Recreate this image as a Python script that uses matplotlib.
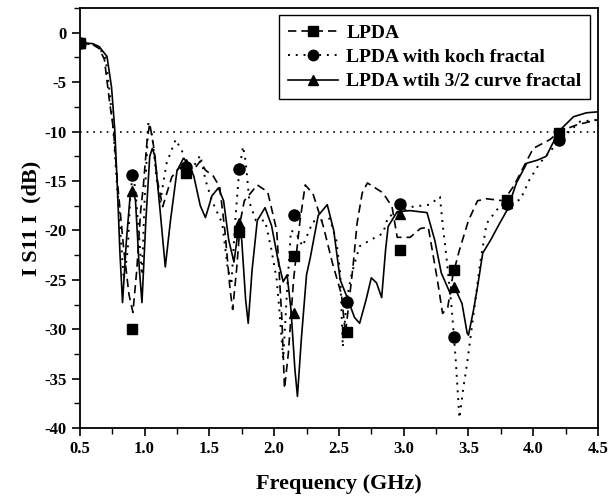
import matplotlib.pyplot as plt
from matplotlib.lines import Line2D
from matplotlib.ticker import MultipleLocator

plt.rcParams['font.family'] = ['Liberation Serif', 'DejaVu Serif']
plt.rcParams['font.weight'] = 'bold'
plt.rcParams['axes.unicode_minus'] = False

# LPDA (dashed)
x_lpda = [0.5, 0.6, 0.65, 0.69, 0.73, 0.76, 0.79, 0.84, 0.88, 0.91, 0.94, 0.97, 0.99, 1.02, 1.04,
          1.07, 1.1, 1.14, 1.21, 1.27, 1.32, 1.37, 1.43, 1.47, 1.53, 1.58, 1.62, 1.66, 1.68,
          1.71, 1.74, 1.77, 1.87, 1.95, 2.02, 2.06, 2.08, 2.11, 2.15, 2.2, 2.24, 2.3, 2.38,
          2.45, 2.52, 2.55, 2.58, 2.61, 2.64, 2.68, 2.72, 2.84, 2.91, 2.95, 3.05, 3.13, 3.19,
          3.26, 3.3, 3.34, 3.38, 3.43, 3.5, 3.57, 3.64, 3.77, 3.85, 3.94, 4.0, 4.13, 4.2,
          4.34, 4.5]
y_lpda = [-1.0, -1.2, -1.6, -2.7, -7.0, -9.8, -15.0, -22.0, -26.5, -28.3, -24.0, -18.0, -15.6, -10.8, -9.2,
          -11.5, -15.0, -17.6, -14.6, -13.6, -14.3, -14.0, -13.0, -13.9, -14.5, -15.6, -20.0, -26.0, -28.0,
          -24.0, -19.0, -17.0, -15.4, -16.1, -20.0, -29.0, -36.0, -32.4, -25.0, -19.0, -15.4, -16.3, -19.6,
          -23.3, -26.5, -30.5, -27.0, -23.5, -19.3, -16.2, -15.2, -16.2, -17.6, -20.7, -20.7, -19.8, -19.7,
          -25.0, -28.4, -27.8, -24.5, -22.0, -19.0, -17.0, -16.8, -17.0, -15.5, -13.2, -11.7, -10.8, -10.0,
          -9.3, -8.8]

# LPDA with koch fractal (dotted)
x_koch = [0.5, 0.6, 0.65, 0.7, 0.73, 0.76, 0.79, 0.84, 0.87, 0.89, 0.91, 0.93, 0.96, 0.98, 1.0,
          1.03, 1.06, 1.09, 1.12, 1.17, 1.24, 1.29, 1.33, 1.38, 1.43, 1.47, 1.52, 1.6, 1.64,
          1.67, 1.7, 1.73, 1.76, 1.78, 1.81, 1.86, 1.93, 1.98, 2.02, 2.04, 2.07, 2.1, 2.13,
          2.17, 2.22, 2.3, 2.37, 2.43, 2.48, 2.51, 2.53, 2.56, 2.6, 2.66, 2.74, 2.84, 2.88,
          3.07, 3.2, 3.28, 3.3, 3.33, 3.37, 3.4, 3.43, 3.46, 3.49, 3.54, 3.59, 3.64, 3.72,
          3.82, 3.9, 3.97, 4.05, 4.21, 4.36, 4.5]
y_koch = [-1.0, -1.2, -1.5, -2.6, -6.0, -10.0, -16.0, -25.0, -22.0, -16.5, -14.2, -16.0, -21.0, -24.5, -17.0,
          -9.0, -10.5, -14.5, -17.2, -13.2, -10.8, -12.0, -14.0, -13.5, -12.4, -14.9, -17.0, -19.3, -23.7,
          -25.5, -19.0, -14.0, -11.5, -13.0, -17.2, -19.0, -19.0, -22.0, -25.0, -28.0, -33.0, -26.0, -20.0,
          -20.3, -21.6, -19.1, -19.0, -18.8, -21.0, -24.3, -31.8, -27.0, -24.3, -21.6, -21.0, -20.3, -18.6,
          -17.6, -17.4, -16.6, -19.3, -22.7, -27.8, -32.8, -39.0, -36.0, -33.4, -28.4, -23.3, -19.3, -17.9,
          -17.2, -16.9, -14.9, -13.2, -10.8, -9.0, -8.8]

# LPDA wtih 3/2 curve fractal (solid)
x_frac = [0.5, 0.6, 0.65, 0.71, 0.745, 0.77, 0.79, 0.81, 0.83, 0.86, 0.89, 0.91, 0.93, 0.96, 0.98, 1.01,
          1.04, 1.06, 1.08, 1.12, 1.16, 1.2, 1.25, 1.3, 1.34, 1.38, 1.43, 1.47, 1.52, 1.57,
          1.61, 1.65, 1.69, 1.73, 1.75, 1.78, 1.8, 1.83, 1.87, 1.93, 1.98, 2.03, 2.07, 2.1,
          2.13, 2.16, 2.18, 2.21, 2.25, 2.28, 2.34, 2.41, 2.46, 2.51, 2.57, 2.62, 2.66, 2.71,
          2.75, 2.79, 2.83, 2.86, 2.88, 2.95, 3.05, 3.18, 3.24, 3.29, 3.36, 3.39, 3.45, 3.49,
          3.5, 3.54, 3.57, 3.61, 3.67, 3.74, 3.8, 3.87, 3.95, 4.03, 4.1, 4.15, 4.21, 4.31,
          4.41, 4.5]
y_frac = [-1.0, -1.1, -1.4, -2.4, -5.5, -9.8, -15.6, -22.3, -27.3, -21.0, -16.3, -15.8, -17.0, -24.0, -27.3, -19.0,
          -12.5, -11.7, -12.5, -18.0, -23.7, -19.0, -14.0, -12.7, -13.3, -14.5, -17.5, -18.7, -16.5, -15.7,
          -17.0, -21.0, -23.2, -19.3, -21.0, -27.0, -29.4, -24.0, -19.0, -17.7, -19.5, -23.0, -25.2, -24.5,
          -28.0, -34.0, -36.8, -31.0, -24.5, -22.7, -18.5, -17.4, -20.0, -25.0, -27.0, -28.8, -29.4, -27.0,
          -24.8, -25.3, -26.8, -22.0, -19.6, -18.1, -18.0, -18.2, -21.0, -24.3, -26.4, -25.7, -27.4, -30.4,
          -30.6, -28.0, -25.7, -22.3, -21.0, -19.3, -17.9, -15.2, -13.2, -12.9, -12.5, -11.2, -9.8, -8.5,
          -8.1, -8.0]

# marker points
mx = [0.5, 0.9, 1.32, 1.73, 2.15, 2.56, 2.97, 3.39, 3.8, 4.2]
sq_y = [-1.0, -30.0, -14.2, -20.2, -22.6, -30.3, -22.0, -24.0, -16.9, -10.1]
ci_y = [-1.0, -14.4, -13.6, -13.8, -18.4, -27.2, -17.3, -30.8, -17.3, -10.9]
tr_y = [-1.0, -16.0, -13.3, -19.3, -28.4, -27.0, -18.3, -25.7, -17.2, -10.2]

fig = plt.figure(figsize=(6.09, 5.03), dpi=100)
ax = fig.add_axes([0.131, 0.149, 0.851, 0.835])

dash = (0, (5, 3))
dot = (0, (1, 3))

ax.axhline(-10, color='black', linestyle=dot, linewidth=1.2)
ax.plot(x_lpda, y_lpda, color='black', linestyle=dash, linewidth=1.2)
ax.plot(x_koch, y_koch, color='black', linestyle=dot, linewidth=1.4)
ax.plot(x_frac, y_frac, color='black', linestyle='-', linewidth=1.2)
ax.plot(mx, sq_y, 's', color='black', markersize=7.5)
ax.plot(mx, ci_y, 'o', color='black', markersize=8)
ax.plot(mx, tr_y, '^', color='black', markersize=7.5)

ax.set_xlim(0.5, 4.5)
ax.set_ylim(-40, 2.5)
ax.xaxis.set_major_locator(MultipleLocator(0.5))
ax.xaxis.set_minor_locator(MultipleLocator(0.25))
ax.yaxis.set_major_locator(MultipleLocator(5))
ax.yaxis.set_minor_locator(MultipleLocator(2.5))
ax.tick_params(which='major', direction='out', length=6, width=1.2, labelsize=12)
ax.tick_params(which='minor', direction='out', length=4, width=1.0)
for s in ax.spines.values():
    s.set_linewidth(1.3)
for lab in ax.get_xticklabels() + ax.get_yticklabels():
    lab.set_fontweight('bold')

ax.set_xlabel('Frequency (GHz)', fontsize=16, fontweight='bold', labelpad=12)
ax.set_ylabel('I S11 I  (dB)', fontsize=16, fontweight='bold', labelpad=2)

handles = [
    Line2D([], [], color='black', linestyle=dash, marker='s', markersize=7, linewidth=1.2),
    Line2D([], [], color='black', linestyle=dot, marker='o', markersize=7.5, linewidth=1.4),
    Line2D([], [], color='black', linestyle='-', marker='^', markersize=7.5, linewidth=1.2),
]
labels = ['LPDA', 'LPDA with koch fractal', 'LPDA wtih 3/2 curve fractal']
leg = ax.legend(handles, labels, loc='upper right', bbox_to_anchor=(0.985, 0.983),
                borderaxespad=0, fancybox=False, framealpha=1, edgecolor='black',
                numpoints=1, prop={'weight': 'bold', 'size': 14}, handlelength=2.6,
                borderpad=0.45, labelspacing=0.35, handletextpad=0.4)
leg.get_frame().set_linewidth(1.0)

plt.savefig('out.png', dpi=100)
